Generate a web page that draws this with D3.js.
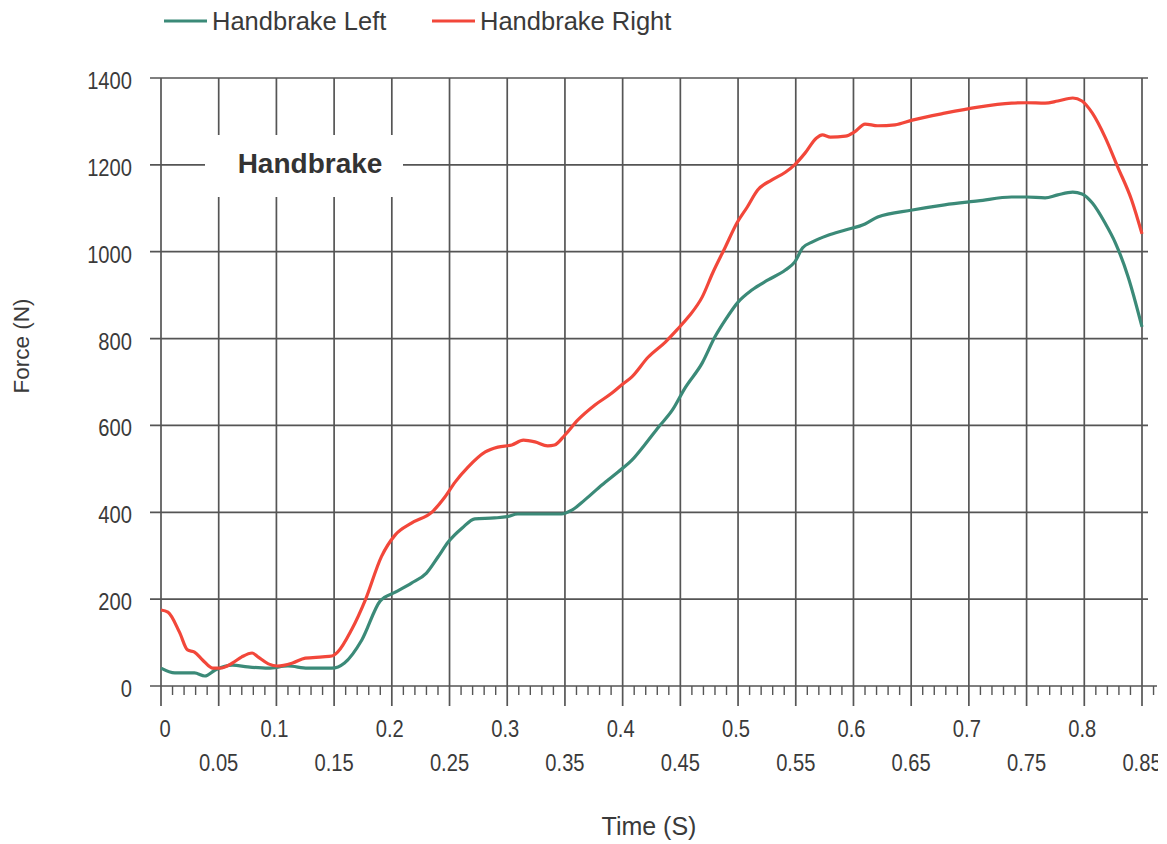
<!DOCTYPE html>
<html>
<head>
<meta charset="utf-8">
<script src="https://cdn.jsdelivr.net/npm/d3@7"></script>
<style>
  html, body { margin: 0; padding: 0; background: #fff; }
  svg { display: block; }
  text { font-family: "Liberation Sans", Arial, sans-serif; fill: #3a3a3a; }
</style>
</head>
<body>
<svg id="chart" width="1167" height="844"></svg>
<script>
// ---------- data ----------
const seriesNames = ["Handbrake Left", "Handbrake Right"];
const seriesColors = ["#3b8a78", "#f2473a"];

const leftTime = [0, 0.012, 0.029, 0.038, 0.047, 0.062, 0.075, 0.093, 0.110, 0.127, 0.148, 0.159, 0.174, 0.19, 0.203, 0.217, 0.230, 0.240, 0.249, 0.261, 0.272, 0.289, 0.300, 0.309, 0.330, 0.347, 0.356, 0.367, 0.382, 0.396, 0.408, 0.419, 0.431, 0.443, 0.454, 0.469, 0.480, 0.489, 0.500, 0.512, 0.526, 0.541, 0.549, 0.556, 0.564, 0.578, 0.593, 0.610, 0.621, 0.651, 0.679, 0.708, 0.737, 0.750, 0.766, 0.777, 0.790, 0.798, 0.807, 0.818, 0.827, 0.838, 0.85];
const leftForce = [41, 30, 30, 23, 37, 48, 44, 41, 46, 41, 41, 53, 106, 196, 216, 237, 260, 297, 332, 364, 385, 387, 390, 396, 396, 396, 405, 428, 463, 493, 520, 555, 596, 635, 686, 744, 804, 843, 884, 912, 935, 958, 976, 1009, 1022, 1038, 1050, 1064, 1080, 1096, 1108, 1117, 1126, 1126, 1124, 1131, 1137, 1133, 1112, 1066, 1020, 942, 827];

const rightTime = [0, 0.006, 0.016, 0.023, 0.029, 0.036, 0.045, 0.051, 0.062, 0.070, 0.079, 0.084, 0.093, 0.101, 0.114, 0.125, 0.140, 0.148, 0.153, 0.165, 0.177, 0.191, 0.203, 0.217, 0.235, 0.246, 0.255, 0.266, 0.281, 0.292, 0.304, 0.314, 0.324, 0.335, 0.341, 0.350, 0.361, 0.376, 0.391, 0.399, 0.408, 0.422, 0.437, 0.447, 0.457, 0.469, 0.478, 0.489, 0.499, 0.508, 0.517, 0.529, 0.541, 0.549, 0.558, 0.568, 0.573, 0.580, 0.593, 0.601, 0.610, 0.621, 0.636, 0.651, 0.679, 0.708, 0.737, 0.750, 0.766, 0.777, 0.790, 0.798, 0.807, 0.818, 0.829, 0.841, 0.85];
const rightForce = [175, 170, 124, 83, 78, 60, 41, 41, 53, 67, 76, 67, 51, 46, 53, 64, 67, 69, 78, 129, 198, 298, 348, 375, 401, 435, 470, 504, 539, 550, 555, 566, 562, 553, 555, 578, 612, 647, 675, 693, 712, 757, 792, 820, 850, 896, 951, 1011, 1066, 1103, 1142, 1165, 1183, 1200, 1227, 1262, 1269, 1264, 1266, 1276, 1294, 1290, 1292, 1303, 1319, 1333, 1342, 1343, 1342, 1347, 1354, 1347, 1319, 1264, 1195, 1119, 1041];

const yTicks = [0, 200, 400, 600, 800, 1000, 1200, 1400];
const xTicksTop = [0, 0.1, 0.2, 0.3, 0.4, 0.5, 0.6, 0.7, 0.8];
const xTicksBottom = [0.05, 0.15, 0.25, 0.35, 0.45, 0.55, 0.65, 0.75, 0.85];
const xMajor = d3.range(0, 18).map(i => +(i * 0.05).toFixed(2));
const xMinor = d3.range(0, 87).map(i => +(i * 0.01).toFixed(2)).filter(v => Math.round(v * 100) % 5 !== 0);
const annotation = "Handbrake";
const xTitle = "Time (S)";
const yTitle = "Force (N)";

// ---------- layout ----------
const svg = d3.select("#chart");
const x = d3.scaleLinear().domain([0, 0.85]).range([161, 1142]);
const y = d3.scaleLinear().domain([0, 1400]).range([686, 78]);
const gridColor = "#555";
const tickFont = 24, tickSqueeze = 0.84;

svg.append("clipPath").attr("id", "clipAll")
  .append("rect").attr("x", 0).attr("y", 0).attr("width", 1158).attr("height", 844);
const root = svg.append("g").attr("clip-path", "url(#clipAll)");

// horizontal grid
root.append("g").selectAll("line").data(yTicks).join("line")
  .attr("x1", 150).attr("x2", d => d === 0 ? 1157 : 1148)
  .attr("y1", d => y(d)).attr("y2", d => y(d))
  .attr("stroke", gridColor).attr("stroke-width", 1.7);

// vertical grid + major ticks
root.append("g").selectAll("line").data(xMajor).join("line")
  .attr("x1", d => x(d)).attr("x2", d => x(d))
  .attr("y1", y(1400)).attr("y2", 706)
  .attr("stroke", gridColor).attr("stroke-width", 1.7);

// minor ticks
root.append("g").selectAll("line").data(xMinor).join("line")
  .attr("x1", d => x(d)).attr("x2", d => x(d))
  .attr("y1", y(0)).attr("y2", 695)
  .attr("stroke", gridColor).attr("stroke-width", 1.4);

// annotation box
root.append("rect").attr("x", 205).attr("y", 135).attr("width", 198).attr("height", 62).attr("fill", "#fff");
root.append("text").attr("x", 310).attr("y", 173).attr("text-anchor", "middle")
  .attr("font-size", 28).attr("font-weight", "bold").style("fill", "#333").text(annotation);

// y tick labels
root.append("g").selectAll("text").data(yTicks).join("text")
  .attr("transform", d => `translate(132,${y(d) + 11}) scale(${tickSqueeze},1)`)
  .attr("text-anchor", "end").attr("font-size", tickFont).text(d => d);

// x tick labels
root.append("g").selectAll("text").data(xTicksTop).join("text")
  .attr("transform", d => `translate(${x(d) + (d === 0 ? 4 : -2)},737) scale(${tickSqueeze},1)`)
  .attr("text-anchor", "middle").attr("font-size", tickFont).text(d => d);
root.append("g").selectAll("text").data(xTicksBottom).join("text")
  .attr("transform", d => `translate(${x(d)},771) scale(${tickSqueeze},1)`)
  .attr("text-anchor", "middle").attr("font-size", tickFont).text(d => d);

// axis titles
root.append("text").attr("x", 649).attr("y", 835).attr("text-anchor", "middle")
  .attr("font-size", 25).text(xTitle);
root.append("text").attr("transform", "translate(29,346) rotate(-90)")
  .attr("text-anchor", "middle").attr("font-size", 22.5).text(yTitle);

// lines
const line = d3.line().x(d => x(d[0])).y(d => y(d[1])).curve(d3.curveMonotoneX);
const leftData = leftTime.map((t, i) => [t, leftForce[i]]);
const rightData = rightTime.map((t, i) => [t, rightForce[i]]);
root.append("path").datum(leftData).attr("d", line)
  .attr("fill", "none").attr("stroke", seriesColors[0]).attr("stroke-width", 3.2);
root.append("path").datum(rightData).attr("d", line)
  .attr("fill", "none").attr("stroke", seriesColors[1]).attr("stroke-width", 3.2);

// legend
const legendX = [164, 432];
const lg = root.append("g").selectAll("g").data(seriesNames).join("g")
  .attr("transform", (d, i) => `translate(${legendX[i]},21)`);
lg.append("line").attr("x1", 0).attr("x2", 43).attr("y1", 0).attr("y2", 0)
  .attr("stroke", (d, i) => seriesColors[i]).attr("stroke-width", 3);
lg.append("text").attr("x", 48).attr("y", 9)
  .attr("font-size", 25.5).text(d => d);
</script>
</body>
</html>
